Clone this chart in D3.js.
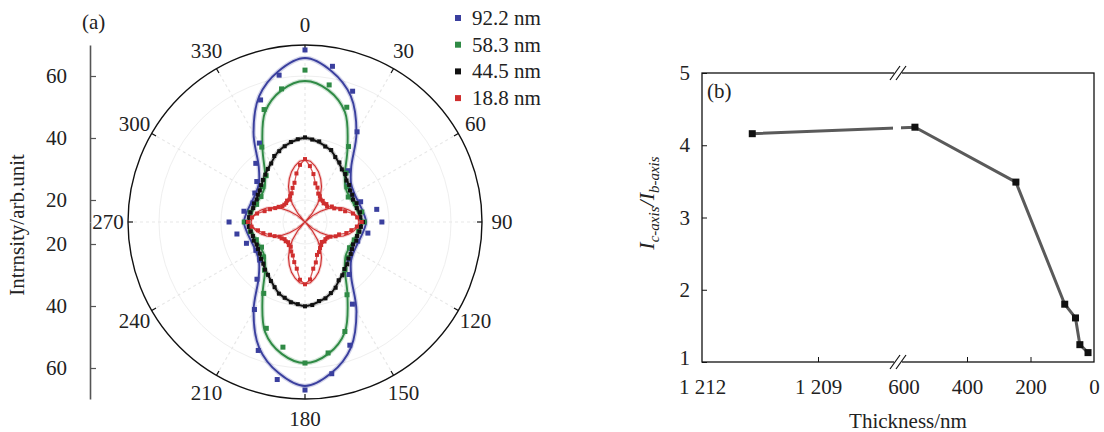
<!DOCTYPE html>
<html>
<head>
<meta charset="utf-8">
<script src="https://cdn.jsdelivr.net/npm/d3@7"></script>
<style>
  body { margin: 0; background: #fff; }
  svg { display: block; font-family: "Liberation Serif", "Times New Roman", serif; }
</style>
</head>
<body>
<div id="container"></div>
<script>
// ---- data (a): polar intensity, arb. unit ----
const seriesNames = ["92.2 nm", "58.3 nm", "44.5 nm", "18.8 nm"];
const seriesColors = ["#3a3f9e", "#2f8a45", "#111111", "#cf2e2e"];

// fitted curves, every 10 deg from 0 to 350
const fitAngles = d3.range(0, 360, 10);
const fitBlue = [65.8, 62.3, 56.1, 46.1, 36.1, 32.3, 31.3, 31.3, 31.9, 32.6, 31.9, 31.3, 31.3, 32.3, 36.1, 46.1, 56.1, 62.3,
  65.8, 62.3, 56.1, 46.1, 36.1, 32.3, 31.3, 31.3, 31.9, 32.6, 31.9, 31.3, 31.3, 32.3, 36.1, 46.1, 56.1, 62.3];
const fitGreen = [58.4, 56.1, 50.6, 40.3, 32.9, 30.0, 29.4, 29.7, 30.3, 31.0, 30.3, 29.7, 29.4, 30.0, 32.9, 40.3, 50.6, 56.1,
  58.4, 56.1, 50.6, 40.3, 32.9, 30.0, 29.4, 29.7, 30.3, 31.0, 30.3, 29.7, 29.4, 30.0, 32.9, 40.3, 50.6, 56.1];
const fitBlack = [40.0, 39.0, 37.4, 34.8, 32.9, 31.3, 30.3, 30.3, 30.6, 31.3, 30.6, 30.3, 30.3, 31.3, 32.9, 34.8, 37.4, 39.0,
  40.0, 39.0, 37.4, 34.8, 32.9, 31.3, 30.3, 30.3, 30.6, 31.3, 30.6, 30.3, 30.3, 31.3, 32.9, 34.8, 37.4, 39.0];
// red fit every 5 deg (four-leaf, touches the centre at 45 deg)
const fitRedAngles = d3.range(0, 360, 5);
const fitRed = [32.9, 32.6, 31.3, 29.7, 27.7, 25.5, 22.9, 20.0, 16.4, 12.9, 16.1, 19.0, 21.6, 23.9, 26.1, 27.7, 29.0, 30.0,
  30.3, 30.0, 29.0, 27.7, 26.1, 23.9, 21.6, 19.0, 16.1, 12.9, 16.4, 20.0, 22.9, 25.5, 27.7, 29.7, 31.3, 32.6,
  32.9, 32.6, 31.3, 29.7, 27.7, 25.5, 22.9, 20.0, 16.4, 12.9, 16.1, 19.0, 21.6, 23.9, 26.1, 27.7, 29.0, 30.0,
  30.3, 30.0, 29.0, 27.7, 26.1, 23.9, 21.6, 19.0, 16.1, 12.9, 16.4, 20.0, 22.9, 25.5, 27.7, 29.7, 31.3, 32.6];

// measured points
const angles10 = d3.range(0, 360, 10);
const angles5 = d3.range(0, 360, 5);
const ptsBlue = [68.4, 63.9, 57.8, 46.5, 34.5, 31.0, 30.5, 32.0, 36.4, 37.7, 33.5, 31.0, 30.2, 31.5, 35.0, 43.5, 55.2, 62.6,
  67.1, 64.5, 57.0, 45.5, 37.0, 32.0, 31.2, 33.0, 35.2, 37.4, 32.9, 30.8, 31.6, 33.2, 37.6, 42.3, 54.8, 61.0];
const ptsGreen = [61.9, 57.8, 52.3, 41.0, 33.5, 30.5, 29.0, 30.2, 31.5, 32.0, 30.5, 29.8, 29.5, 30.8, 33.0, 40.0, 50.5, 55.8,
  58.4, 53.9, 49.4, 39.5, 33.2, 30.4, 29.1, 29.6, 30.8, 32.5, 30.9, 29.5, 29.3, 30.6, 32.4, 40.8, 51.5, 56.5];
const ptsBlack = [40.2, 39.6, 39.3, 38.1, 37.6, 36.0, 35.1, 33.6, 33.1, 31.8, 31.5, 30.6, 30.5, 30.0, 30.6, 30.2, 30.9, 30.8,
  31.6, 31.0, 30.7, 30.3, 30.5, 30.0, 30.4, 30.9, 31.2, 32.2, 32.7, 33.9, 34.6, 36.3, 37.3, 38.4, 38.8, 39.8,
  40.1, 39.5, 39.2, 38.2, 37.5, 36.1, 34.9, 33.7, 33.0, 31.9, 31.4, 30.7, 30.4, 30.1, 30.5, 30.3, 30.7, 31.1,
  31.5, 31.0, 30.8, 30.2, 30.4, 30.1, 30.5, 30.7, 31.4, 32.1, 32.8, 33.8, 34.7, 36.4, 37.2, 38.2, 39.1, 39.7];
const ptsRed = [33.2, 31.0, 28.6, 25.8, 24.7, 23.0, 22.5, 21.7, 21.8, 21.4, 21.9, 21.6, 22.9, 23.3, 25.0, 26.3, 28.6, 29.8,
  31.2, 29.7, 28.1, 26.7, 24.6, 23.8, 22.4, 21.7, 21.5, 21.8, 21.3, 22.0, 22.6, 23.6, 24.2, 26.4, 28.2, 31.5,
  33.0, 31.6, 28.2, 26.3, 24.4, 23.4, 22.1, 22.0, 21.4, 21.7, 21.5, 22.1, 22.4, 23.7, 24.9, 26.8, 28.3, 30.2,
  31.3, 30.1, 28.6, 26.4, 24.9, 23.5, 22.7, 21.8, 21.6, 21.5, 21.9, 21.7, 22.5, 23.1, 24.6, 26.0, 28.8, 31.4];

const radialTicks = [20, 40, 60];
const angleTicks = d3.range(0, 360, 30);

// ---- data (b): intensity ratio vs thickness ----
const thickness = [1210.7, 564, 246, 92.2, 58.3, 44.5, 18.8];
const ratio = [4.16, 4.25, 3.49, 1.80, 1.61, 1.24, 1.13];
const ratioTicks = [1, 2, 3, 4, 5];
const leftTicks = [1212, 1209];
const rightTicks = [600, 400, 200, 0];

const W = 1104, H = 432;
const svg = d3.select("#container").append("svg").attr("width", W).attr("height", H);

// ================= (a) polar =================
const cx = 305, cy = 222, R = 177;
const rScale = d3.scaleLinear().domain([12.9, 70]).range([0, R]).clamp(true);
const rad = (a) => a * Math.PI / 180;

const gp = svg.append("g").attr("transform", `translate(${cx},${cy})`);

// faint grid
gp.selectAll(".ring").data(radialTicks).join("circle")
  .attr("r", (d) => rScale(d)).attr("fill", "none")
  .attr("stroke", "#efefef").attr("stroke-width", 1);
gp.selectAll(".spoke").data(angleTicks).join("line")
  .attr("x1", 0).attr("y1", 0)
  .attr("x2", (d) => R * Math.sin(rad(d))).attr("y2", (d) => -R * Math.cos(rad(d)))
  .attr("stroke", "#e8e8e8").attr("stroke-width", 1.2).attr("stroke-dasharray", "3,3");

// outer circle + ticks
gp.append("circle").attr("r", R).attr("fill", "none").attr("stroke", "#111").attr("stroke-width", 1.4);
gp.selectAll(".atick").data(angleTicks).join("line")
  .attr("x1", (d) => R * Math.sin(rad(d))).attr("y1", (d) => -R * Math.cos(rad(d)))
  .attr("x2", (d) => (R - 5) * Math.sin(rad(d))).attr("y2", (d) => -(R - 5) * Math.cos(rad(d)))
  .attr("stroke", "#111").attr("stroke-width", 1.2);
gp.selectAll(".alabel").data(angleTicks).join("text")
  .attr("x", (d) => 197 * Math.sin(rad(d)))
  .attr("y", (d) => -197 * Math.cos(rad(d)))
  .attr("text-anchor", "middle").attr("dominant-baseline", "central")
  .attr("font-size", 21).attr("fill", "#222")
  .text((d) => d);

const radial = d3.lineRadial()
  .angle((d) => rad(d.a))
  .radius((d) => rScale(d.v));

// red measured points joined by a thin jagged line
gp.append("path")
  .datum(angles5.map((a, j) => ({ a: a, v: ptsRed[j] })))
  .attr("d", radial.curve(d3.curveLinearClosed))
  .attr("fill", "none").attr("stroke", seriesColors[3]).attr("stroke-width", 1.3).attr("stroke-opacity", 0.8);

// fitted curves
const fits = [
  { a: fitAngles, v: fitBlue },
  { a: fitAngles, v: fitGreen },
  { a: fitAngles, v: fitBlack },
  { a: fitRedAngles, v: fitRed },
];
fits.forEach((f, i) => {
  const pts = f.a.map((a, j) => ({ a: a, v: f.v[j] }));
  const curve = i === 3 ? d3.curveLinearClosed : d3.curveCatmullRomClosed.alpha(0.5);
  gp.append("path").datum(pts)
    .attr("d", radial.curve(curve))
    .attr("fill", "none")
    .attr("stroke", seriesColors[i]).attr("stroke-opacity", 0.22).attr("stroke-width", i === 3 ? 3 : 4.5);
  gp.append("path").datum(pts)
    .attr("d", radial.curve(curve))
    .attr("fill", "none")
    .attr("stroke", seriesColors[i]).attr("stroke-width", i === 3 ? 1.1 : 1.9);
});

// scatter points
const scatter = [
  { a: angles10, v: ptsBlue, s: 5 },
  { a: angles10, v: ptsGreen, s: 5 },
  { a: angles5, v: ptsBlack, s: 4 },
  { a: angles5, v: ptsRed, s: 4 },
];
scatter.forEach((sr, i) => {
  gp.append("g").selectAll("rect").data(sr.a.map((a, j) => ({ a: a, v: sr.v[j] }))).join("rect")
    .attr("x", (d) => rScale(d.v) * Math.sin(rad(d.a)) - sr.s / 2)
    .attr("y", (d) => -rScale(d.v) * Math.cos(rad(d.a)) - sr.s / 2)
    .attr("width", sr.s).attr("height", sr.s)
    .attr("fill", seriesColors[i]);
});

// left radial axis (mirrored)
const yUp = d3.scaleLinear().domain([12.9, 70]).range([cy, cy - R]);
const yDown = d3.scaleLinear().domain([12.9, 70]).range([cy, cy + R]);
[yUp, yDown].forEach((sc) => {
  const ax = svg.append("g").attr("transform", "translate(90,0)")
    .call(d3.axisLeft(sc).tickValues(radialTicks).tickSize(-6).tickSizeOuter(0).tickPadding(23));
  ax.select(".domain").attr("stroke", "#555").attr("stroke-width", 1.6);
  ax.selectAll(".tick line").attr("stroke", "#555").attr("stroke-width", 1.2);
  ax.selectAll(".tick text").attr("font-size", 21).attr("fill", "#222")
    .attr("font-family", "Liberation Serif, serif");
});
svg.append("text")
  .attr("transform", "translate(24,225) rotate(-90)")
  .attr("text-anchor", "middle").attr("font-size", 21).attr("fill", "#222")
  .text("Intrnsity/arb.unit");
svg.append("text").attr("x", 82).attr("y", 29).attr("font-size", 21).attr("fill", "#222").text("(a)");

// legend
const lg = svg.append("g").attr("transform", "translate(458,18)");
seriesNames.forEach((n, i) => {
  const row = lg.append("g").attr("transform", `translate(0,${i * 26.7})`);
  row.append("rect").attr("x", -3).attr("y", -3).attr("width", 6).attr("height", 6).attr("fill", seriesColors[i]);
  row.append("text").attr("x", 14).attr("y", 0).attr("dominant-baseline", "central")
    .attr("font-size", 21).attr("fill", "#222").text(n);
});

// ================= (b) ratio vs thickness =================
const bx0 = 702, bx1 = 1094, by0 = 73, by1 = 362, brk = 898;
const y = d3.scaleLinear().domain([1, 5]).range([by1, by0]);
const xL = d3.scaleLinear().domain([1212, 1209]).range([bx0, 818]);
const xR = d3.scaleLinear().domain([600, 0]).range([903.5, bx1]);
const xb = (t) => (t > 1000 ? xL(t) : xR(t));

const gb = svg.append("g");
// box
gb.append("rect").attr("x", bx0).attr("y", by0).attr("width", bx1 - bx0).attr("height", by1 - by0)
  .attr("fill", "none").attr("stroke", "#111").attr("stroke-width", 1.3);

// y axis
const ay = gb.append("g").attr("transform", `translate(${bx0},0)`)
  .call(d3.axisLeft(y).tickValues(ratioTicks).tickFormat(d3.format("d")).tickSize(-5).tickSizeOuter(0).tickPadding(12));
ay.select(".domain").remove();
ay.selectAll(".tick line").attr("stroke", "#111");
ay.selectAll(".tick text").attr("font-size", 21).attr("fill", "#222").attr("font-family", "Liberation Serif, serif");
// the "1" sits a touch high, as in the reference, to clear the x labels
ay.selectAll(".tick text").filter((d) => d === 1).attr("dy", "0.1em");

// x axis (two segments)
const fmt = (d) => (d >= 1000 ? d3.format("d")(d).replace(/^(\d)(\d{3})$/, "$1 $2") : String(d));
[[xL, leftTicks], [xR, rightTicks]].forEach(([sc, tv]) => {
  const ax = gb.append("g").attr("transform", `translate(0,${by1})`)
    .call(d3.axisBottom(sc).tickValues(tv).tickFormat(fmt).tickSize(-5).tickSizeOuter(0).tickPadding(17));
  ax.select(".domain").remove();
  ax.selectAll(".tick line").attr("stroke", "#111")
    .attr("opacity", (d) => (d === 1212 || d === 0 || d === 600 ? 0 : 1));
  ax.selectAll(".tick text").attr("font-size", 21).attr("fill", "#222").attr("font-family", "Liberation Serif, serif");
});

// axis breaks
[by0, by1].forEach((yy) => {
  gb.append("rect").attr("x", brk - 4).attr("y", yy - 2).attr("width", 8).attr("height", 4).attr("fill", "#fff");
  [-3, 3].forEach((o) => {
    gb.append("line")
      .attr("x1", brk + o - 5).attr("y1", yy + 7)
      .attr("x2", brk + o + 5).attr("y2", yy - 7)
      .attr("stroke", "#111").attr("stroke-width", 1.2);
  });
});

// data line
const pts = thickness.map((t, i) => [xb(t), y(ratio[i])]);
gb.append("path").datum(pts)
  .attr("d", d3.line())
  .attr("fill", "none").attr("stroke", "#5a5a5a").attr("stroke-width", 3);
// gap in line at the break
gb.append("rect").attr("x", brk - 5).attr("y", y(4.32)).attr("width", 8).attr("height", y(4.1) - y(4.32)).attr("fill", "#fff");
gb.selectAll(".pt").data(pts).join("rect")
  .attr("x", (d) => d[0] - 3.5).attr("y", (d) => d[1] - 3.5)
  .attr("width", 7).attr("height", 7).attr("fill", "#111");

gb.append("text").attr("x", 707).attr("y", 98).attr("font-size", 21).attr("fill", "#222").text("(b)");
gb.append("text").attr("x", 908).attr("y", 428).attr("text-anchor", "middle")
  .attr("font-size", 21).attr("fill", "#222").text("Thickness/nm");

const yl = gb.append("text")
  .attr("transform", "translate(654,203) rotate(-90)")
  .attr("text-anchor", "middle").attr("font-size", 22).attr("fill", "#222").attr("font-style", "italic");
yl.append("tspan").text("I");
yl.append("tspan").attr("font-size", 15).attr("dy", 5).text("c-axis");
yl.append("tspan").attr("dy", -5).text("/I");
yl.append("tspan").attr("font-size", 15).attr("dy", 5).text("b-axis");
</script>
</body>
</html>
